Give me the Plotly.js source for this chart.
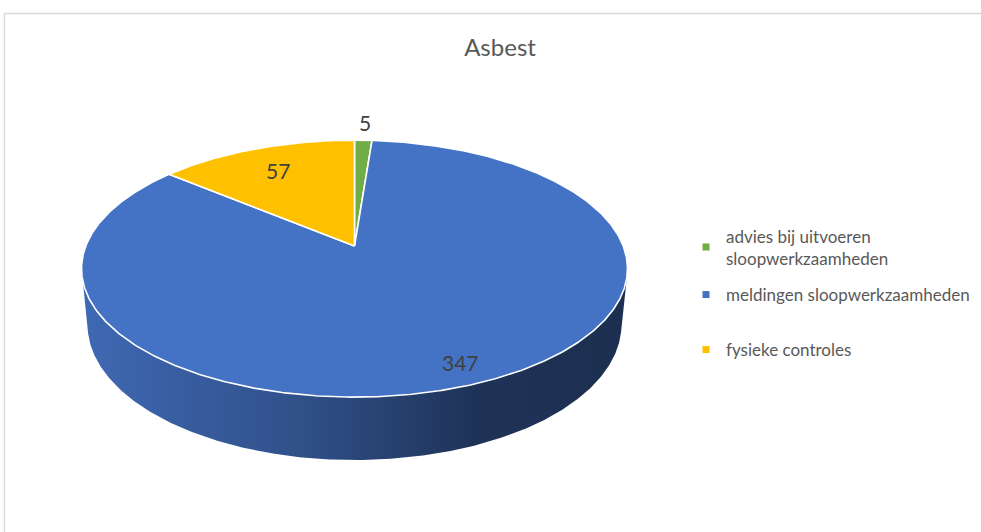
<!DOCTYPE html>
<html><head><meta charset="utf-8">
<script src="https://cdn.plot.ly/plotly-3.0.1.min.js"></script>
<style>html,body{margin:0;padding:0;background:#fff}#chart{width:981px;height:532px}</style>
</head><body><div id="chart"></div>
<script>
const chartTitle = 'Asbest';
const categories = ['advies bij uitvoeren sloopwerkzaamheden', 'meldingen sloopwerkzaamheden', 'fysieke controles'];
const legendLabels = ['advies bij uitvoeren<br>sloopwerkzaamheden', 'meldingen sloopwerkzaamheden', 'fysieke controles'];
const values = [5, 347, 57];
const colors = ['#70AD47', '#4472C4', '#FFC000'];

// ---- 3D perspective pie geometry (style constants) ----
const W = 981, H = 532;
const CX = 354.5, CY = 246;           // screen position of pie centre (top face)
const D = 5.033, F = 1352.4;          // camera distance (in radii) and focal length
const SA = 0.4633, CA = 0.8862;       // sin / cos of elevation
const DEPTH = 0.2374;                 // thickness in radii
const labelR = [1.2, 0.87, 0.75];     // data label radial positions
const FONT = 'Lato, "Open Sans", sans-serif';

function proj(r, phiDeg, h) {
  const p = phiDeg * Math.PI / 180;
  const x = r * Math.sin(p), z = -r * Math.cos(p), y = h;
  const d = D - (y * SA + z * CA);
  return [CX + F * x / d, CY - F * (y * CA - z * SA) / d];
}
function arc(a0, a1, h) {
  const n = Math.max(2, Math.ceil((a1 - a0) / 0.5));
  const pts = [];
  for (let i = 0; i <= n; i++) pts.push(proj(1, a0 + (a1 - a0) * i / n, h));
  return pts;
}
function hull(points) {
  const p = points.slice().sort((a, b) => a[0] - b[0] || a[1] - b[1]);
  const cross = (o, a, b) => (a[0] - o[0]) * (b[1] - o[1]) - (a[1] - o[1]) * (b[0] - o[0]);
  const lower = [], upper = [];
  for (const q of p) { while (lower.length >= 2 && cross(lower[lower.length - 2], lower[lower.length - 1], q) <= 0) lower.pop(); lower.push(q); }
  for (let i = p.length - 1; i >= 0; i--) { const q = p[i]; while (upper.length >= 2 && cross(upper[upper.length - 2], upper[upper.length - 1], q) <= 0) upper.pop(); upper.push(q); }
  upper.pop(); lower.pop();
  return lower.concat(upper);
}
function shade(hex, f) {
  const n = parseInt(hex.slice(1), 16);
  const r = Math.round(((n >> 16) & 255) * f), g = Math.round(((n >> 8) & 255) * f), b = Math.round((n & 255) * f);
  return `rgb(${r},${g},${b})`;
}

const total = values.reduce((a, b) => a + b, 0);
const sideTraces = [];
const sliceTraces = [];
const annotations = [];
let start = 0;
values.forEach((v, i) => {
  const a0 = start, a1 = start + v / total * 360;
  start = a1;
  // side wall (visible front part only)
  const s0 = Math.max(a0, 80), s1 = Math.min(a1, 280);
  if (s1 > s0) {
    const pts = hull(arc(s0, s1, 0).concat(arc(s0, s1, -DEPTH)));
    pts.push(pts[0]);
    sideTraces.push({
      type: 'scatter', mode: 'lines', x: pts.map(p => p[0]), y: pts.map(p => p[1]),
      fill: 'toself', line: { width: 0, color: shade(colors[i], 0.5) },
      fillgradient: { type: 'horizontal', colorscale: [[0, shade(colors[i], 0.92)], [0.4, shade(colors[i], 0.70)], [0.72, shade(colors[i], 0.45)], [1, shade(colors[i], 0.41)]] },
      hoverinfo: 'skip', showlegend: false
    });
  }
  // top face
  const c = proj(0, 0, 0);
  const pts = [c].concat(arc(a0, a1, 0)).concat([c]);
  sliceTraces.push({
    type: 'scatter', mode: 'lines', name: categories[i],
    x: pts.map(p => p[0]), y: pts.map(p => p[1]),
    fill: 'toself', fillcolor: colors[i], line: { color: '#ffffff', width: 1.6 },
    hoverinfo: 'text', text: categories[i] + ': ' + v, showlegend: false
  });
  // data label
  const lp = proj(labelR[i], (a0 + a1) / 2, 0);
  annotations.push({ x: lp[0], y: lp[1], xref: 'x', yref: 'y', text: String(v), showarrow: false,
    font: { family: FONT, size: 21, color: '#404040' }, xanchor: 'center', yanchor: 'middle' });
});

// legend entries
const legendY = [1 - 247.5 / H, 1 - 295 / H, 1 - 350 / H];
const legendNames = ['legend', 'legend2', 'legend3'];
const legendTraces = values.map((v, i) => ({
  type: 'scatter', mode: 'markers', x: [null], y: [null], name: legendLabels[i],
  marker: { symbol: 'square', size: 7, color: colors[i] }, legend: legendNames[i], showlegend: true
}));

const legendBase = { x: 686 / W, xanchor: 'left', yanchor: 'middle', bgcolor: 'rgba(0,0,0,0)',
  font: { family: FONT, size: 17, color: '#595959' }, borderwidth: 0 };

const layout = {
  width: W, height: H,
  margin: { l: 0, r: 0, t: 0, b: 0, pad: 0 },
  paper_bgcolor: '#ffffff', plot_bgcolor: '#ffffff',
  title: { text: chartTitle, x: 500 / W, xanchor: 'center', xref: 'paper', yref: 'paper', y: 1 - 48 / H, yanchor: 'middle',
    font: { family: FONT, size: 24, color: '#595959' } },
  xaxis: { range: [0, W], visible: false, fixedrange: true },
  yaxis: { range: [H, 0], visible: false, fixedrange: true },
  legend: Object.assign({}, legendBase, { y: legendY[0] }),
  legend2: Object.assign({}, legendBase, { y: legendY[1] }),
  legend3: Object.assign({}, legendBase, { y: legendY[2] }),
  annotations: annotations,
  shapes: [{ type: 'path', xref: 'x', yref: 'y', path: 'M4.5,532 L4.5,13.5 L981,13.5', line: { color: '#d9d9d9', width: 1.3 } }],
  showlegend: true
};

Plotly.newPlot('chart', sideTraces.concat(sliceTraces).concat(legendTraces), layout, { displayModeBar: false, staticPlot: true });
</script>
</body></html>
